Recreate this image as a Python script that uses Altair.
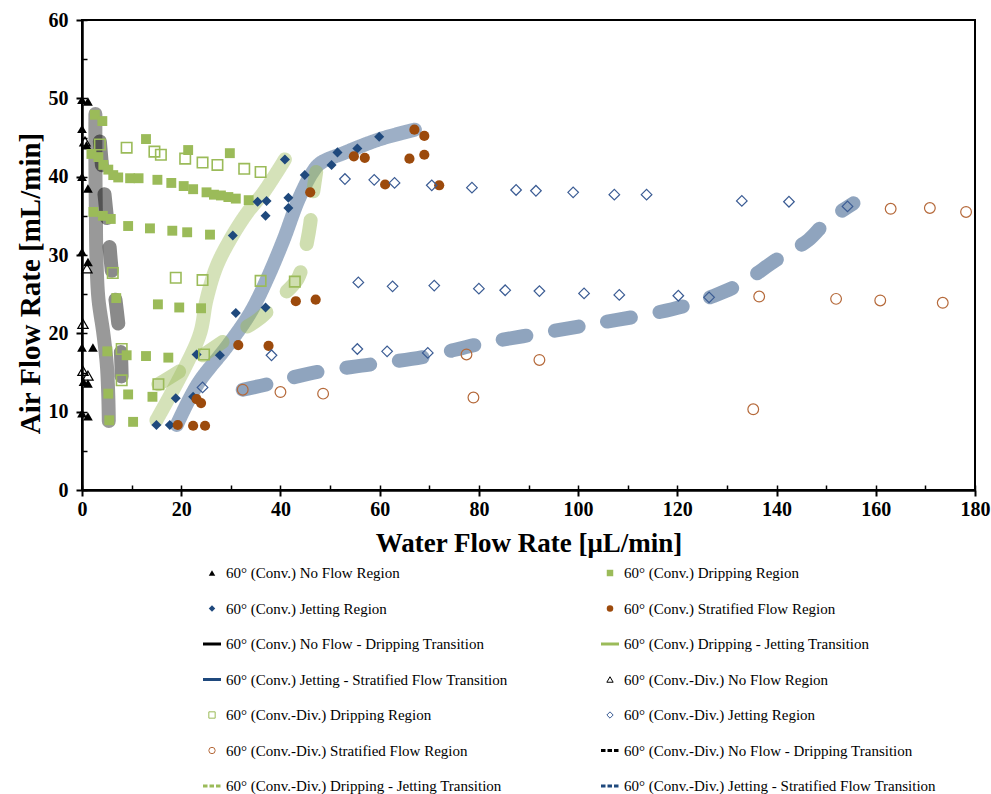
import altair as alt
import pandas as pd

# ---------------- series names (legend order) ----------------
S = [
    "60° (Conv.) No Flow Region",
    "60° (Conv.) Dripping Region",
    "60° (Conv.) Jetting Region",
    "60° (Conv.) Stratified Flow Region",
    "60° (Conv.) No Flow - Dripping Transition",
    "60° (Conv.) Dripping - Jetting Transition",
    "60° (Conv.) Jetting - Stratified Flow Transition",
    "60° (Conv.-Div.) No Flow Region",
    "60° (Conv.-Div.) Dripping Region",
    "60° (Conv.-Div.) Jetting Region",
    "60° (Conv.-Div.) Stratified Flow Region",
    "60° (Conv.-Div.) No Flow - Dripping Transition",
    "60° (Conv.-Div.) Dripping - Jetting Transition",
    "60° (Conv.-Div.) Jetting - Stratified Flow Transition",
]

# ---------------- point data ----------------
conv_noflow_x = [0, 1.2, 0, 0.9, 0, 1.2, 0, 1.2, 0, 2.2, 0.3, 1.2, 0, 1.2]
conv_noflow_y = [49.8, 49.6, 46.1, 44.0, 40.0, 38.5, 30.4, 29.1, 18.2, 18.2, 13.8, 13.6, 9.8, 9.4]

conv_drip_x = [2.6, 4.1, 12.9, 21.4, 29.8,
               1.9, 3.3, 4.3, 5.3, 6.3, 7.3, 9.7, 11.4, 15.2, 18.0, 20.5, 22.4, 25.1, 26.6, 28.0, 29.5, 31.0, 33.6,
               2.3, 4.2, 5.8, 9.3, 13.7, 18.2, 21.2, 25.8,
               6.9, 15.3, 19.6, 24.0,
               5.1, 9.0, 12.9, 17.4,
               5.3, 9.3, 14.2,
               5.5, 10.3]
conv_drip_y = [47.9, 47.1, 44.8, 43.4, 43.0,
               42.9, 42.5, 41.5, 40.9, 40.2, 39.9, 39.8, 39.8, 39.6, 39.2, 38.8, 38.4, 38.0, 37.7, 37.6, 37.4, 37.2, 37.0,
               35.5, 35.0, 34.6, 33.7, 33.4, 33.1, 32.9, 32.6,
               24.5, 23.7, 23.3, 23.2,
               17.7, 17.2, 17.1, 16.9,
               12.3, 12.2, 11.9,
               8.9, 8.7]

conv_jet_x = [15.0, 17.7, 18.9, 22.4, 23.1, 27.8, 31.0, 37.0, 30.4, 37.0, 35.4, 37.2, 41.6, 41.6,
              40.9, 44.9, 50.3, 51.5, 55.5, 59.9]
conv_jet_y = [8.3, 8.3, 11.7, 11.9, 17.3, 17.2, 22.6, 23.3, 32.5, 35.0, 36.8, 36.9, 37.3, 36.0,
              42.2, 40.2, 41.5, 43.1, 43.6, 45.1]

conv_strat_x = [19.3, 22.4, 24.8, 23.1, 24.0, 31.5, 37.6, 43.1, 47.1, 46.0, 54.8, 57.0, 61.1, 66.0,
                69.0, 67.0, 69.0, 72.0]
conv_strat_y = [8.3, 8.2, 8.2, 11.6, 11.1, 18.5, 18.4, 24.1, 24.3, 38.0, 42.6, 42.4, 39.0, 42.3,
                42.8, 46.0, 45.2, 38.9]

cd_noflow_x = [0.6, 1.0, 0.2, 0.2, 1.2]
cd_noflow_y = [44.5, 28.3, 21.2, 15.2, 14.6]

cd_drip_x = [3.6, 9.0, 14.6, 15.9, 20.8, 24.3, 27.3, 32.7, 36.0,
             6.2, 18.9, 24.3, 36.0, 42.9,
             8.0, 24.6, 8.0, 15.4]
cd_drip_y = [44.1, 43.7, 43.2, 42.8, 42.3, 41.8, 41.5, 41.0, 40.6,
             27.7, 27.1, 26.8, 26.7, 26.6,
             18.0, 17.3, 14.0, 13.5]

cd_jet_x = [24.3, 38.2, 55.5, 61.5, 69.7,
            55.7, 62.6, 71.0, 80.0, 85.3, 92.2, 101.2, 108.3, 120.2, 126.4,
            53.0, 58.9, 63.0, 70.5, 78.6, 87.5, 91.5, 99.0, 107.3, 113.8, 133.0, 142.5, 154.3]
cd_jet_y = [13.1, 17.2, 18.0, 17.7, 17.5,
            26.5, 26.0, 26.1, 25.7, 25.5, 25.4, 25.1, 24.9, 24.8, 24.6,
            39.7, 39.6, 39.2, 38.9, 38.6, 38.3, 38.2, 38.0, 37.7, 37.7, 36.9, 36.8, 36.2]

cd_strat_x = [32.4, 40.0, 48.6, 77.5, 78.9, 92.2, 135.3, 136.5, 152.0, 160.9, 173.5, 163.0, 170.9, 178.2]
cd_strat_y = [12.8, 12.5, 12.3, 17.3, 11.8, 16.6, 10.3, 24.7, 24.4, 24.2, 23.9, 35.9, 36.0, 35.5]

# ---------------- transition lines ----------------
t_conv_nf_x = [2.7, 2.7, 2.8, 2.9, 3.3, 4.3, 5.0, 5.3, 5.4]
t_conv_nf_y = [48.0, 42.0, 35.0, 30.0, 24.5, 20.0, 16.0, 12.0, 8.8]

t_conv_dj_x = [15.0, 20.8, 23.8, 25.1, 27.1, 29.8, 33.2, 36.5, 40.9]
t_conv_dj_y = [8.9, 15.7, 20.0, 24.3, 28.5, 31.9, 35.3, 37.9, 42.2]

t_conv_js_x = [19.1, 23.4, 29.2, 33.9, 37.2, 40.6, 43.6, 46.3, 48.0, 52.7, 60.1, 67.1]
t_conv_js_y = [8.3, 13.6, 18.3, 22.6, 26.8, 31.9, 37.0, 40.4, 41.7, 43.0, 44.8, 46.0]

t_cd_nf_x = [3.6, 4.5, 5.3, 6.0, 7.0, 7.8, 8.0]
t_cd_nf_y = [44.5, 38.0, 33.0, 28.0, 23.0, 18.0, 14.0]

t_cd_dj_x = [15.4, 20.0, 24.6, 30.0, 36.0, 39.0, 43.5, 44.8, 46.0, 46.4, 47.2]
t_cd_dj_y = [13.5, 15.3, 17.3, 19.6, 22.0, 24.0, 27.0, 30.0, 34.0, 37.0, 40.6]

t_cd_js_x = [32.4, 38.0, 46.0, 58.0, 69.0, 80.6, 92.3, 104.0, 115.5, 122.0, 127.0, 133.0, 140.0, 146.4, 150.0, 155.5]
t_cd_js_y = [12.8, 13.6, 14.9, 16.0, 17.0, 18.7, 20.0, 21.3, 22.6, 23.6, 24.7, 26.4, 29.4, 31.9, 34.2, 36.6]

# ---------------- styles ----------------
BLACK, GREEN, NAVY, BROWN = "#000000", "#9bbb59", "#1f497d", "#9c4a0c"
NAVY2, BROWN2 = "#3b5c94", "#b5693a"
legend_colors = [BLACK, GREEN, NAVY, BROWN, BLACK, GREEN, NAVY,
                 BLACK, GREEN, NAVY2, BROWN2, BLACK, GREEN, NAVY]

point_sets = [
    (S[0], conv_noflow_x, conv_noflow_y, "filled"),
    (S[1], conv_drip_x, conv_drip_y, "filled"),
    (S[2], conv_jet_x, conv_jet_y, "filled"),
    (S[3], conv_strat_x, conv_strat_y, "filled"),
    (S[7], cd_noflow_x, cd_noflow_y, "open"),
    (S[8], cd_drip_x, cd_drip_y, "open_thick"),
    (S[9], cd_jet_x, cd_jet_y, "open"),
    (S[10], cd_strat_x, cd_strat_y, "open"),
]
point_series = [p[0] for p in point_sets]
point_shapes = ["triangle-up", "square", "diamond", "circle", "triangle-up", "square", "diamond", "circle"]
point_sizes = [95, 115, 115, 150, 85, 110, 100, 165]

line_sets = [
    (S[4], t_conv_nf_x, t_conv_nf_y),
    (S[5], t_conv_dj_x, t_conv_dj_y),
    (S[6], t_conv_js_x, t_conv_js_y),
    (S[11], t_cd_nf_x, t_cd_nf_y),
    (S[12], t_cd_dj_x, t_cd_dj_y),
    (S[13], t_cd_js_x, t_cd_js_y),
]
line_series = [l[0] for l in line_sets]
line_dashes = [[1, 0], [1, 0], [1, 0], [24, 29], [24, 29], [24, 29]]
line_opac = [0.4, 0.5, 0.5, 0.4, 0.5, 0.5]

pt_rows = []
for name, xs, ys, style in point_sets:
    for x, y in zip(xs, ys):
        pt_rows.append({"series": name, "x": x, "y": y, "style": style})
pt_df = pd.DataFrame(pt_rows)

line_rows = []
for name, xs, ys in line_sets:
    for i, (x, y) in enumerate(zip(xs, ys)):
        line_rows.append({"series": name, "x": x, "y": y, "ord": i})
line_df = pd.DataFrame(line_rows)

# legend table: entries laid out row-major in two columns
leg_rows = []
for i, s in enumerate(S):
    kind = "line" if "Transition" in s else ("open" if "Conv.-Div." in s else "filled")
    dashed = kind == "line" and "Conv.-Div." in s
    leg_rows.append({"series": s, "col": i % 2, "row": i // 2, "kind": kind, "dashed": dashed})
leg_df = pd.DataFrame(leg_rows)

# ---------------- encodings ----------------
xscale = alt.Scale(domain=[0, 180], nice=False, zero=False)
yscale = alt.Scale(domain=[0, 60], nice=False, zero=False)

x_axis = alt.Axis(orient="bottom", values=list(range(0, 181, 20)), tickSize=6, tickWidth=2,
                  domainWidth=2.5, labelPadding=3, labelFlush=False, labelOverlap=False,
                  title="Water Flow Rate [μL/min]", titleFontSize=27, titleY=53,
                  titleBaseline="middle", grid=False)
y_axis = alt.Axis(orient="left", values=list(range(0, 61, 10)), tickSize=6, tickWidth=2,
                  domainWidth=2.5, labelPadding=8, labelFlush=False, labelOverlap=False,
                  title="Air Flow Rate [mL/min]", titleFontSize=29, titleX=-52, titleY=263,
                  titleAngle=-90, titleAlign="center", titleBaseline="middle", grid=False)

X = alt.X("x:Q", scale=xscale, axis=x_axis)
Y = alt.Y("y:Q", scale=yscale, axis=y_axis)
COLOR = alt.Color("series:N", scale=alt.Scale(domain=S, range=legend_colors), legend=None)
SHAPE = alt.Shape("series:N", scale=alt.Scale(domain=point_series, range=point_shapes), legend=None)
SIZE = alt.Size("series:N", scale=alt.Scale(domain=point_series, range=point_sizes), legend=None)

lines = alt.Chart(line_df).mark_line(
    strokeWidth=14, strokeCap="round", strokeJoin="round", interpolate="catmull-rom"
).encode(
    x=X, y=Y, color=COLOR,
    strokeDash=alt.StrokeDash("series:N", scale=alt.Scale(domain=line_series, range=line_dashes), legend=None),
    opacity=alt.Opacity("series:N", scale=alt.Scale(domain=line_series, range=line_opac), legend=None),
    order="ord:Q",
)

ptbase = alt.Chart(pt_df)
filled_pts = ptbase.transform_filter("datum.style == 'filled'").mark_point(
    filled=True, opacity=1, strokeWidth=0).encode(x=X, y=Y, color=COLOR, shape=SHAPE, size=SIZE)
open_pts = ptbase.transform_filter("datum.style == 'open'").mark_point(
    filled=False, opacity=1, strokeWidth=1.2).encode(x=X, y=Y, color=COLOR, shape=SHAPE, size=SIZE)
open_thick_pts = ptbase.transform_filter("datum.style == 'open_thick'").mark_point(
    filled=False, opacity=1, strokeWidth=1.6).encode(x=X, y=Y, color=COLOR, shape=SHAPE, size=SIZE)

data_layer = alt.layer(lines, filled_pts, open_thick_pts, open_pts)

inner_x = alt.Axis(orient="bottom", values=list(range(0, 181, 10)), offset=-5, tickSize=5, tickWidth=1.5,
                   labels=False, domain=False, title=None, grid=False)
inner_y = alt.Axis(orient="left", values=list(range(0, 61, 5)), offset=-5, tickSize=5, tickWidth=1.5,
                   labels=False, domain=False, title=None, grid=False)
ticks_layer = alt.Chart(pt_df).mark_point(opacity=0).encode(
    x=alt.X("x:Q", scale=xscale, axis=inner_x),
    y=alt.Y("y:Q", scale=yscale, axis=inner_y),
)

main = alt.layer(data_layer, ticks_layer).resolve_axis(x="independent", y="independent")

# ---------------- legend (drawn from the legend table through its own scales) ----------------
LX = alt.X("col:Q", scale=alt.Scale(domain=[0, 1], range=[130, 528]), axis=None)
LY = alt.Y("row:Q", scale=alt.Scale(domain=[0, 6], range=[553, 766]), axis=None)
legbase = alt.Chart(leg_df)
leg_filled = legbase.transform_filter("datum.kind == 'filled'").mark_point(
    filled=True, opacity=1, strokeWidth=0, size=42).encode(x=LX, y=LY, color=COLOR, shape=SHAPE)
leg_open = legbase.transform_filter("datum.kind == 'open'").mark_point(
    filled=False, opacity=1, strokeWidth=1, size=40).encode(x=LX, y=LY, color=COLOR, shape=SHAPE)
leg_solid = legbase.transform_filter("datum.kind == 'line' && !datum.dashed").mark_point(
    shape="stroke", filled=False, opacity=1, strokeWidth=3, size=324).encode(x=LX, y=LY, color=COLOR)
leg_dash = legbase.transform_filter("datum.kind == 'line' && datum.dashed").mark_point(
    shape="stroke", filled=False, opacity=1, strokeWidth=3, size=324, strokeDash=[4.5, 2]).encode(
    x=LX, y=LY, color=COLOR)
leg_text = legbase.mark_text(align="left", baseline="middle", dx=14, font="Liberation Serif",
                             fontSize=15, color="black").encode(x=LX, y=LY, text="series:N")
legend_layer = alt.layer(leg_solid, leg_dash, leg_filled, leg_open, leg_text)

chart = alt.layer(main, legend_layer).resolve_scale(x="independent", y="independent").properties(
    width=893, height=470,
    autosize=alt.AutoSizeParams(type="none"),
    padding={"left": 82, "top": 20, "right": 16, "bottom": 304},
    background="white",
).configure_view(stroke="black", strokeWidth=2).configure_axis(
    labelFont="Liberation Serif", labelFontSize=20, labelFontWeight="bold", labelColor="black",
    titleFont="Liberation Serif", titleFontWeight="bold", titleColor="black",
    domainColor="black", tickColor="black",
)

chart.save("out.html", embed_options={"renderer": "svg", "actions": False})
